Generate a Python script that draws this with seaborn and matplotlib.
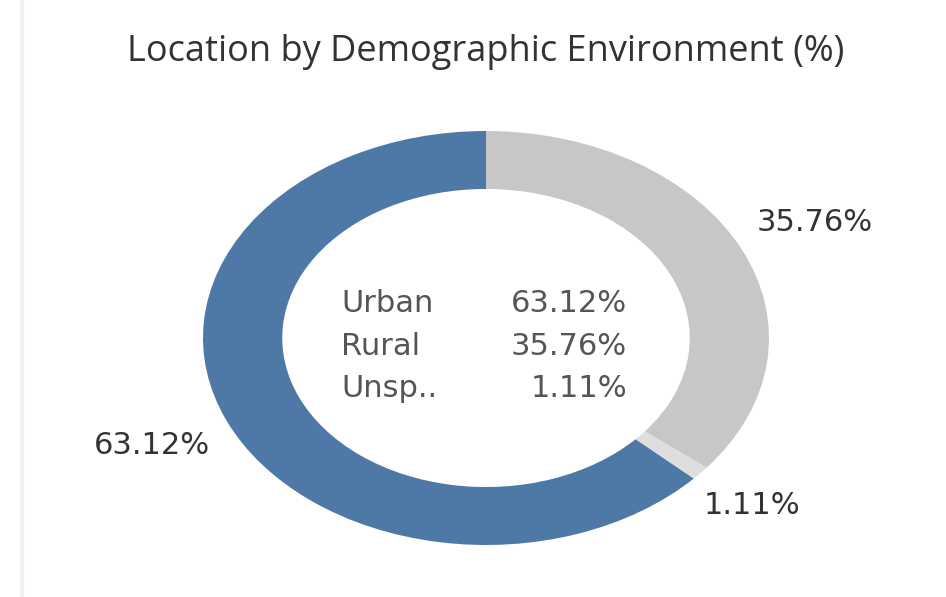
import matplotlib.pyplot as plt
import numpy as np
import seaborn as sns
from matplotlib.lines import Line2D

# Data
categories = ["Urban", "Unspecified", "Rural"]
short_names = ["Urban", "Unsp..", "Rural"]
values = [63.12, 1.11, 35.76]
colors = ["#4e79a7", "#dedede", "#c7c7c7"]
legend_order = ["Urban", "Rural", "Unspecified"]

sns.set_theme(style="white")
plt.rcParams["font.family"] = ["DejaVu Sans"]

fig = plt.figure(figsize=(9.46, 5.97), dpi=100)
ax = fig.add_axes([0, 0, 1, 1])

wedges, _ = ax.pie(
    values,
    colors=colors,
    startangle=90,
    counterclock=True,
    radius=1.0,
    wedgeprops=dict(width=0.28, linewidth=0),
)

# Stretched (non-square) donut like the reference
ax.set_aspect("auto")
ax.set_xlim(-486 / 283, (946 - 486) / 283)
ax.set_ylim(-(597 - 338) / 207, 338 / 207)

# Outer percentage labels at the middle of each wedge
for w, v in zip(wedges, values):
    mid = np.deg2rad((w.theta1 + w.theta2) / 2)
    r = 1.29 if v > 5 else 1.24
    ax.text(r * np.cos(mid), r * np.sin(mid), f"{v:.2f}%",
            ha="center", va="center", fontsize=22, color="#333333")

# Centre summary table
row_y = [0.169, -0.043, -0.242]
for y, name in zip(row_y, legend_order):
    i = categories.index(name)
    ax.text(-0.512, y, short_names[i], ha="left", va="center",
            fontsize=22, color="#555555")
    ax.text(0.498, y, f"{values[i]:.2f}%", ha="right", va="center",
            fontsize=22, color="#555555")

fig.text(486 / 946, 1 - 52 / 597, "Location by Demographic Environment (%)",
         ha="center", va="center", fontsize=26, color="#333333",
         family=["Open Sans", "DejaVu Sans"])

# Thin grey divider on the left edge
fig.add_artist(Line2D([22 / 946, 22 / 946], [0, 1], color="#f0f0f0", lw=3))

fig.savefig("out.png", dpi=100)
